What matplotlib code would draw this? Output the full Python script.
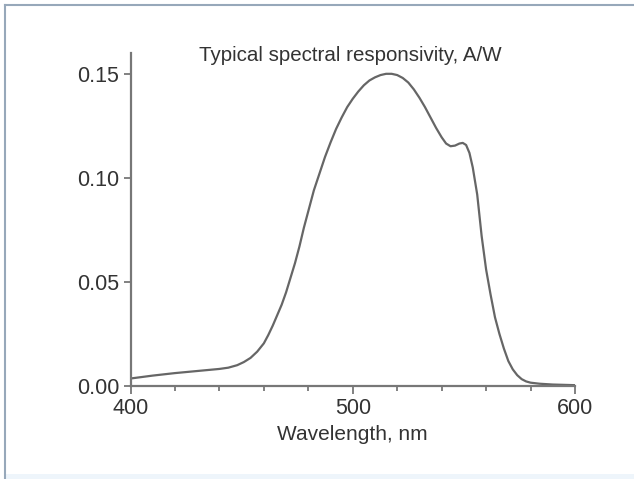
import numpy as np
import matplotlib
matplotlib.use('Agg')
import matplotlib.pyplot as plt
from matplotlib.lines import Line2D
from matplotlib.patches import Rectangle
from matplotlib.ticker import MultipleLocator

# responsivity curve
wavelength = [400, 410, 420, 430, 440, 444, 448, 451, 454, 457,
              460, 462, 464, 466, 468, 470, 472, 474, 476, 478,
              480, 482.5, 485, 487.5, 490, 492.5, 495, 497.5, 500, 502.5,
              505, 507.5, 510, 512.5, 515, 517.5, 520, 522.5, 525, 527.5,
              530, 532.5, 535, 537.5, 540, 542, 544, 546, 548, 549.5,
              551, 552.5, 554, 556, 558, 560, 562, 564, 566, 568,
              570, 572, 574, 576, 578, 580, 584, 590, 600]
responsivity = [0.0036, 0.0050, 0.0062, 0.0072, 0.0082, 0.0088, 0.0100, 0.0115, 0.0135, 0.0165,
                0.0205, 0.0245, 0.029, 0.034, 0.039, 0.045, 0.052, 0.059, 0.067, 0.076,
                0.084, 0.094, 0.102, 0.110, 0.117, 0.1235, 0.129, 0.134, 0.138, 0.1415,
                0.1445, 0.1468, 0.1483, 0.1494, 0.1500, 0.1500, 0.1494, 0.1480, 0.1458, 0.1425,
                0.1385, 0.1340, 0.1290, 0.1240, 0.1195, 0.1165, 0.1152, 0.1155, 0.1165, 0.1168,
                0.1158, 0.1120, 0.1050, 0.0920, 0.0720, 0.0560, 0.0440, 0.0330, 0.0250, 0.0180,
                0.0120, 0.0080, 0.0052, 0.0033, 0.0022, 0.0016, 0.0011, 0.0007, 0.0004]

x_ticks = [400, 500, 600]
y_ticks = [0.00, 0.05, 0.10, 0.15]

plt.rcParams['font.family'] = ['Liberation Sans', 'DejaVu Sans']

W, H = 634, 479
fig = plt.figure(figsize=(W / 100, H / 100), dpi=100)
ax = fig.add_axes([130.5 / W, 1 - 386 / H, (575 - 130.5) / W, (386 - 53) / H])

grey = '#666666'
ax.plot(wavelength, responsivity, color=grey, lw=1.6,
        solid_capstyle='round', solid_joinstyle='round')

ax.set_xlim(400, 600)
ax.set_ylim(0, 0.16)
ax.set_xticks(x_ticks)
ax.set_yticks(y_ticks)
ax.set_yticklabels(['%.2f' % v for v in y_ticks])
ax.xaxis.set_minor_locator(MultipleLocator(20))

for side in ['top', 'right']:
    ax.spines[side].set_visible(False)
for side in ['left', 'bottom']:
    ax.spines[side].set_color('#777777')
    ax.spines[side].set_linewidth(1.6)

ax.tick_params(axis='both', which='major', direction='out', length=5, width=1.3,
               color='#777777', labelsize=15.5, labelcolor='#333333', pad=3)
ax.tick_params(axis='x', which='minor', direction='out', length=3.5, width=1.3, color='#777777')
ax.tick_params(axis='x', which='major', length=6)

ax.set_xlabel('Wavelength, nm', fontsize=15, color='#333333', labelpad=4)
fig.text(350 / W, 1 - 61 / H, 'Typical spectral responsivity, A/W', ha='center', va='baseline',
         fontsize=14.8, color='#333333')

# frame of the original screenshot
fig.add_artist(Line2D([5 / W, 1], [1 - 5 / H, 1 - 5 / H], transform=fig.transFigure,
                      color='#97a8ba', lw=1.5))
fig.add_artist(Line2D([5 / W, 5 / W], [0, 1 - 5 / H], transform=fig.transFigure,
                      color='#97a8ba', lw=1.5))
fig.add_artist(Rectangle((6 / W, 0), 1, 5 / H, transform=fig.transFigure,
                         color='#eef5fb', lw=0))

fig.savefig('out.png', dpi=100)
